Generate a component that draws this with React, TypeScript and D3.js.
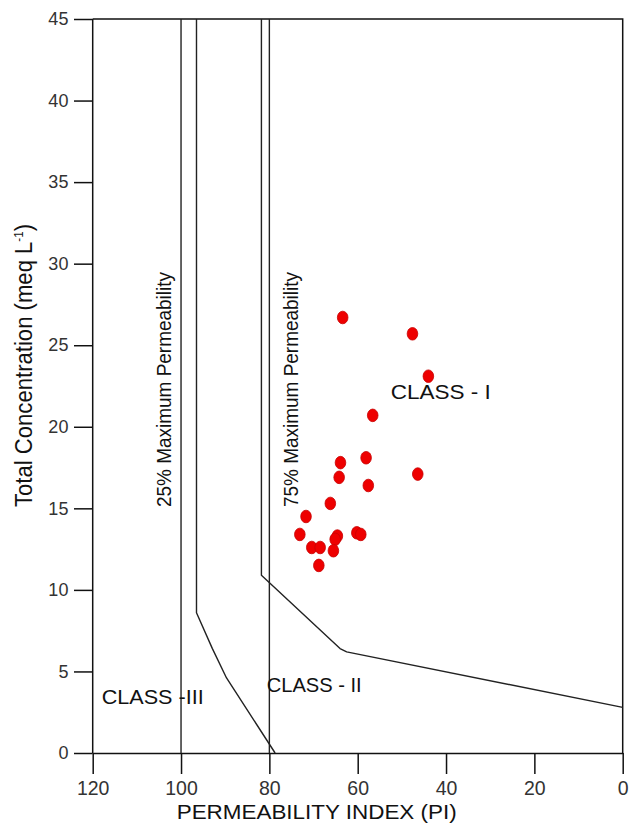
import React, { useEffect, useRef } from 'react';
import * as d3 from 'd3';

// samples: permeability index (%) and total concentration (meq/L)
const samplePI = [63.4, 47.6, 44.0, 56.6, 58.1, 63.9, 64.2, 57.6, 46.4, 66.2, 71.7, 73.1, 64.6, 65.1, 60.2, 59.3, 70.4, 68.5, 65.5, 68.8];
const sampleTC = [26.7, 25.7, 23.1, 20.7, 18.1, 17.8, 16.9, 16.4, 17.1, 15.3, 14.5, 13.4, 13.3, 13.1, 13.5, 13.4, 12.6, 12.6, 12.4, 11.5];

const piTicks = [120, 100, 80, 60, 40, 20, 0];
const tcTicks = [0, 5, 10, 15, 20, 25, 30, 35, 40, 45];

// Doneen class boundaries as [PI, TC]
const line25Outer: [number, number][] = [[100, 45], [100, 0]];
const line25Inner: [number, number][] = [[96.5, 45], [96.5, 8.6], [92.9, 6.4], [89.7, 4.6], [78.7, 0]];
const line75Inner: [number, number][] = [[81.8, 45], [81.8, 10.9], [64.0, 6.4], [62.5, 6.2], [0, 2.8]];
const line75Outer: [number, number][] = [[80, 45], [80, 0]];

const FONT = '"Liberation Sans", Arial, Helvetica, sans-serif';

const App = () => {
  const ref = useRef<SVGSVGElement>(null);

  useEffect(() => {
    const width = 629;
    const height = 833;
    const left = 92.7, right = 622.7, top = 19, bottom = 753;

    const x = d3.scaleLinear().domain([120, 0]).range([left, right]);
    const y = d3.scaleLinear().domain([0, 45]).range([bottom, top]);

    const svg = d3.select(ref.current);
    svg.selectAll('*').remove();
    svg.attr('width', width).attr('height', height);

    svg.append('rect')
      .attr('width', width).attr('height', height)
      .attr('fill', '#fff');

    // frame (top + right)
    svg.append('path')
      .attr('d', `M${left},${top}H${right}V${bottom}`)
      .attr('fill', 'none')
      .attr('stroke', '#111')
      .attr('stroke-width', 1.5);

    // axes
    const yAxis = svg.append('g')
      .attr('transform', `translate(${left},0)`)
      .call(d3.axisLeft(y).tickValues(tcTicks).tickSize(18.7).tickSizeOuter(0).tickPadding(5.6));
    const xAxis = svg.append('g')
      .attr('transform', `translate(0,${bottom})`)
      .call(d3.axisBottom(x).tickValues(piTicks).tickSize(21).tickSizeOuter(0).tickPadding(7.5));

    [yAxis, xAxis].forEach(g => {
      g.selectAll('path, line').attr('stroke', '#111').attr('stroke-width', 1.5);
      g.selectAll('text')
        .attr('fill', '#333')
        .style('font-family', FONT);
    });
    yAxis.selectAll('text').style('font-size', '18px');
    xAxis.selectAll('text').style('font-size', '19.5px');
    yAxis.select('.domain').attr('d', `M0,${bottom}V${top}`);

    // boundary lines
    const line = d3.line<[number, number]>()
      .x(d => x(d[0]))
      .y(d => y(d[1]));

    [line25Outer, line25Inner, line75Inner, line75Outer].forEach(pts => {
      svg.append('path')
        .attr('d', line(pts))
        .attr('fill', 'none')
        .attr('stroke', '#222')
        .attr('stroke-width', 1.4)
        .attr('stroke-linejoin', 'round');
    });

    // sample points
    svg.append('g')
      .selectAll('ellipse')
      .data(samplePI.map((pi, i) => [pi, sampleTC[i]]))
      .enter()
      .append('ellipse')
      .attr('cx', d => x(d[0]))
      .attr('cy', d => y(d[1]))
      .attr('rx', 5.3)
      .attr('ry', 6.3)
      .attr('fill', '#ee0000')
      .attr('stroke', '#c80000')
      .attr('stroke-width', 0.8);

    // rotated boundary labels
    const vLabel = (px: number, text: string) => {
      svg.append('text')
        .attr('transform', `translate(${px},389.5) rotate(-90)`)
        .attr('text-anchor', 'middle')
        .attr('textLength', 235)
        .attr('lengthAdjust', 'spacingAndGlyphs')
        .style('font-family', FONT)
        .style('font-size', '19.5px')
        .attr('fill', '#111')
        .text(text);
    };
    vLabel(171, '25% Maximum Permeability');
    vLabel(298, '75% Maximum Permeability');

    // class labels
    const cLabel = (px: number, py: number, len: number, text: string) => {
      svg.append('text')
        .attr('x', px)
        .attr('y', py)
        .attr('textLength', len)
        .attr('lengthAdjust', 'spacingAndGlyphs')
        .style('font-family', FONT)
        .style('font-size', '21px')
        .attr('fill', '#111')
        .text(text);
    };
    cLabel(390.7, 398.5, 100, 'CLASS - I');
    cLabel(266.7, 691.7, 95, 'CLASS - II');
    cLabel(101.7, 704, 102, 'CLASS -III');

    // axis titles
    svg.append('text')
      .attr('x', (176.7 + 456.7) / 2)
      .attr('y', 819)
      .attr('text-anchor', 'middle')
      .attr('textLength', 280)
      .attr('lengthAdjust', 'spacingAndGlyphs')
      .style('font-family', FONT)
      .style('font-size', '21px')
      .attr('fill', '#111')
      .text('PERMEABILITY INDEX (PI)');

    const yTitle = svg.append('text')
      .attr('transform', 'translate(32,365.5) rotate(-90)')
      .attr('text-anchor', 'middle')
      .attr('textLength', 283)
      .attr('lengthAdjust', 'spacingAndGlyphs')
      .style('font-family', FONT)
      .style('font-size', '23px')
      .attr('fill', '#111');
    yTitle.append('tspan').text('Total Concentration (meq L');
    yTitle.append('tspan').attr('dy', -9).style('font-size', '12px').text('-1');
    yTitle.append('tspan').attr('dy', 9).text(')');
  }, []);

  return (
    <svg ref={ref} width={629} height={833} style={{ position: 'absolute', left: 0, top: 0 }}></svg>
  );
};

export default App;
